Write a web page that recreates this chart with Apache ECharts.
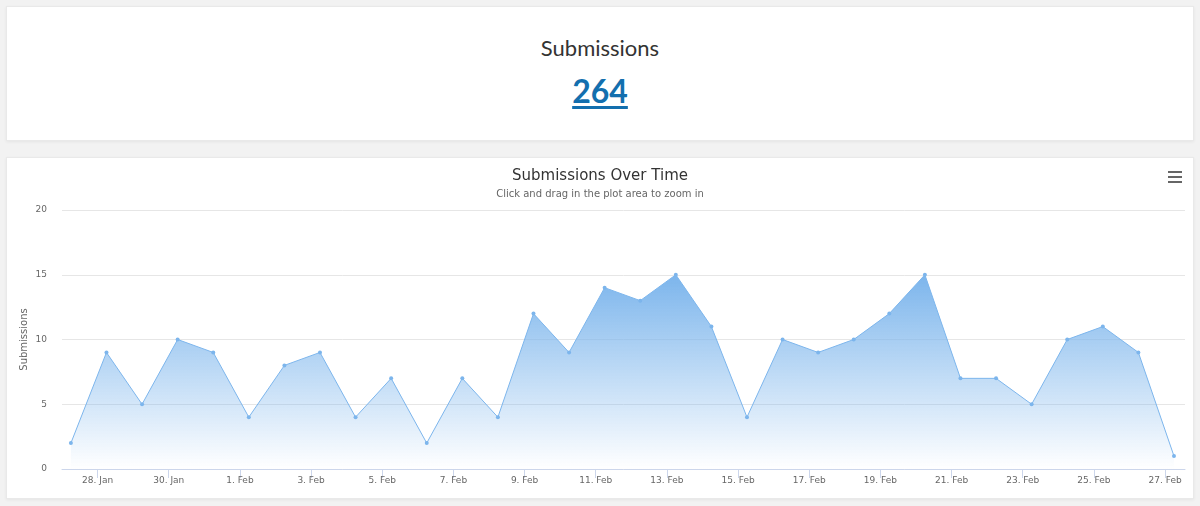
<!DOCTYPE html>
<html>
<head>
<meta charset="utf-8">
<script src="https://cdn.jsdelivr.net/npm/echarts@6/dist/echarts.min.js"></script>
<style>
  html, body { margin: 0; padding: 0; background: #f2f2f2; width: 1200px; height: 506px; overflow: hidden; }
  .card { position: absolute; background: #fff; border: 1px solid #e9e9e9; box-shadow: 0 1px 3px rgba(0,0,0,0.06); }
  .summary { left: 6px; top: 6px; width: 1186px; height: 133px; text-align: center; font-family: Lato, "Open Sans", sans-serif; }
  .summary .label { position: absolute; left: 0; right: 0; top: 27px; font-size: 22px; color: #333; }
  .summary .count { position: absolute; left: 0; right: 0; top: 64px; font-size: 32px; font-weight: 700; }
  .summary .count a { color: #136fae; text-decoration: underline; text-underline-offset: 3px; }
  .chart-card { left: 6px; top: 157px; width: 1186px; height: 340px; }
  #chart { width: 1186px; height: 340px; }
</style>
</head>
<body>
<div class="card summary">
  <div class="label">Submissions</div>
  <div class="count"><a href="#">264</a></div>
</div>
<div class="card chart-card">
  <div id="chart"></div>
</div>
<script>
// one point per day, 27 Jan .. 27 Feb
const dayLabels = [
  '27. Jan', '28. Jan', '29. Jan', '30. Jan', '31. Jan',
  '1. Feb', '2. Feb', '3. Feb', '4. Feb', '5. Feb', '6. Feb', '7. Feb',
  '8. Feb', '9. Feb', '10. Feb', '11. Feb', '12. Feb', '13. Feb', '14. Feb',
  '15. Feb', '16. Feb', '17. Feb', '18. Feb', '19. Feb', '20. Feb', '21. Feb',
  '22. Feb', '23. Feb', '24. Feb', '25. Feb', '26. Feb', '27. Feb'
];
const submissions = [
  2, 9, 5, 10, 9,
  4, 8, 9, 4, 7, 2, 7,
  4, 12, 9, 14, 13, 15, 11,
  4, 10, 9, 10, 12, 15, 7,
  7, 5, 10, 11, 9, 1
];
const tickLabels = [
  '28. Jan', '30. Jan', '1. Feb', '3. Feb', '5. Feb', '7. Feb', '9. Feb', '11. Feb',
  '13. Feb', '15. Feb', '17. Feb', '19. Feb', '21. Feb', '23. Feb', '25. Feb', '27. Feb'
];
// points are stamped at 06:00 of each day
const hourOffset = 0.25;

const chart = echarts.init(document.getElementById('chart'));
const tickPos = tickLabels.map(l => dayLabels.indexOf(l));
const seriesData = submissions.map((v, i) => [i + hourOffset, v]);

const option = {
  animation: false,
  title: {
    text: 'Submissions Over Time',
    subtext: 'Click and drag in the plot area to zoom in',
    left: 'center',
    top: 6,
    itemGap: 5,
    textStyle: { fontFamily: 'DejaVu Sans', fontSize: 15, fontWeight: 'normal', color: '#333' },
    subtextStyle: { fontFamily: 'DejaVu Sans', fontSize: 10, color: '#666' }
  },
  grid: { left: 55, right: 8, top: 52, bottom: 29, containLabel: false },
  xAxis: {
    type: 'value',
    min: 0,
    max: 31.56,
    splitLine: { show: false },
    axisLine: { show: true, lineStyle: { color: '#ccd6eb' } },
    axisTick: {
      show: true,
      length: 9,
      lineStyle: { color: '#ccd6eb' },
      customValues: tickPos
    },
    axisLabel: {
      color: '#666',
      fontFamily: 'DejaVu Sans',
      fontSize: 9,
      margin: 7,
      customValues: tickPos,
      formatter: v => dayLabels[Math.round(v)] || ''
    }
  },
  yAxis: {
    type: 'value',
    min: 0,
    max: 20,
    interval: 5,
    name: 'Submissions',
    nameLocation: 'middle',
    nameRotate: 90,
    nameGap: 33,
    nameMoveOverlap: false,
    nameTextStyle: { color: '#666', fontFamily: 'DejaVu Sans', fontSize: 10 },
    axisLine: { show: false },
    axisTick: { show: false },
    axisLabel: { color: '#666', fontFamily: 'DejaVu Sans', fontSize: 9, margin: 15 },
    splitLine: { lineStyle: { color: '#e6e6e6' } }
  },
  series: [{
    name: 'Submissions',
    type: 'line',
    data: seriesData,
    symbol: 'circle',
    symbolSize: 4,
    lineStyle: { color: '#7cb5ec', width: 1 },
    itemStyle: { color: '#7cb5ec' },
    areaStyle: {
      opacity: 1,
      color: new echarts.graphic.LinearGradient(0, 0, 0, 1, [
        { offset: 0, color: 'rgba(124,181,236,1)' },
        { offset: 1, color: 'rgba(124,181,236,0)' }
      ])
    }
  }],
  graphic: [
    { type: 'rect', left: 1161, top: 13, shape: { width: 14, height: 2 }, style: { fill: '#666' } },
    { type: 'rect', left: 1161, top: 18, shape: { width: 14, height: 2 }, style: { fill: '#666' } },
    { type: 'rect', left: 1161, top: 23, shape: { width: 14, height: 2 }, style: { fill: '#666' } }
  ]
};
chart.setOption(option);
</script>
</body>
</html>
